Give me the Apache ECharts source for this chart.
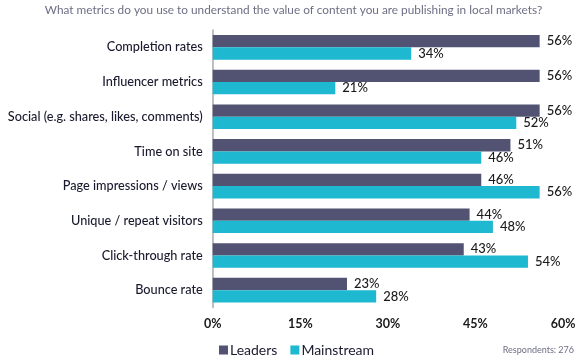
<!DOCTYPE html>
<html><head><meta charset="utf-8">
<script src="https://cdn.jsdelivr.net/npm/echarts@6/dist/echarts.min.js"></script>
<style>html,body{margin:0;padding:0;background:#fff}#c{width:587px;height:357px}</style>
</head><body><div id="c"></div>
<script>
const categories = ["Completion rates","Influencer metrics","Social (e.g. shares, likes, comments)","Time on site","Page impressions / views","Unique / repeat visitors","Click-through rate","Bounce rate"];
const leaders = [56,56,56,51,46,44,43,23];
const mainstream = [34,21,52,46,56,48,54,28];
const xTicks = [0,15,30,45,60];
const FONT = "Lato";
const chart = echarts.init(document.getElementById('c'));
const lbl = {show:true, position:'right', distance:7, formatter:'{c}%', color:'#1a1a1a', fontSize:13, fontFamily:FONT, fontWeight:500};
chart.setOption({
  animation:false,
  title:[{text:'What metrics do you use to understand the value of content you are publishing in local markets?', left:'center', top:-1, textStyle:{fontSize:11.8, fontWeight:'normal', color:'#6e6e85', fontFamily:FONT}},
         {text:'Respondents: 276', right:8, top:341, textStyle:{fontSize:9, fontWeight:'normal', color:'#6e6e85', fontFamily:FONT}}],
  legend:{data:['Leaders','Mainstream'], left:219, top:343, padding:0, itemWidth:9, itemHeight:9, itemGap:13, icon:'rect', textStyle:{fontSize:14, color:'#1a1a2e', fontFamily:FONT, padding:[0,0,0,-3]}},
  grid:{left:212.7, right:24, top:30, bottom:49.5, containLabel:false},
  xAxis:{type:'value', min:0, max:60, interval:15, axisLine:{show:false}, splitLine:{show:false}, axisTick:{show:false},
    axisLabel:{formatter:function(v){return xTicks.indexOf(v)>=0? v+'%':'';}, color:'#1a1a1a', fontSize:12.5, fontWeight:'bold', fontFamily:FONT, margin:10}},
  yAxis:{type:'category', data:categories, inverse:true, axisTick:{show:false}, axisLine:{show:true, lineStyle:{color:'#aaaaaa', width:1.5}},
    axisLabel:{color:'#1a1a2e', fontSize:12.7, fontFamily:FONT, fontWeight:500, margin:10}},
  series:[
    {name:'Leaders', type:'bar', data:leaders, barGap:'0%', barCategoryGap:'29%', itemStyle:{color:'#525373'}, label:lbl},
    {name:'Mainstream', type:'bar', data:mainstream, barGap:'0%', barCategoryGap:'29%', itemStyle:{color:'#1eb9d1'}, label:lbl}
  ]
});
</script></body></html>
